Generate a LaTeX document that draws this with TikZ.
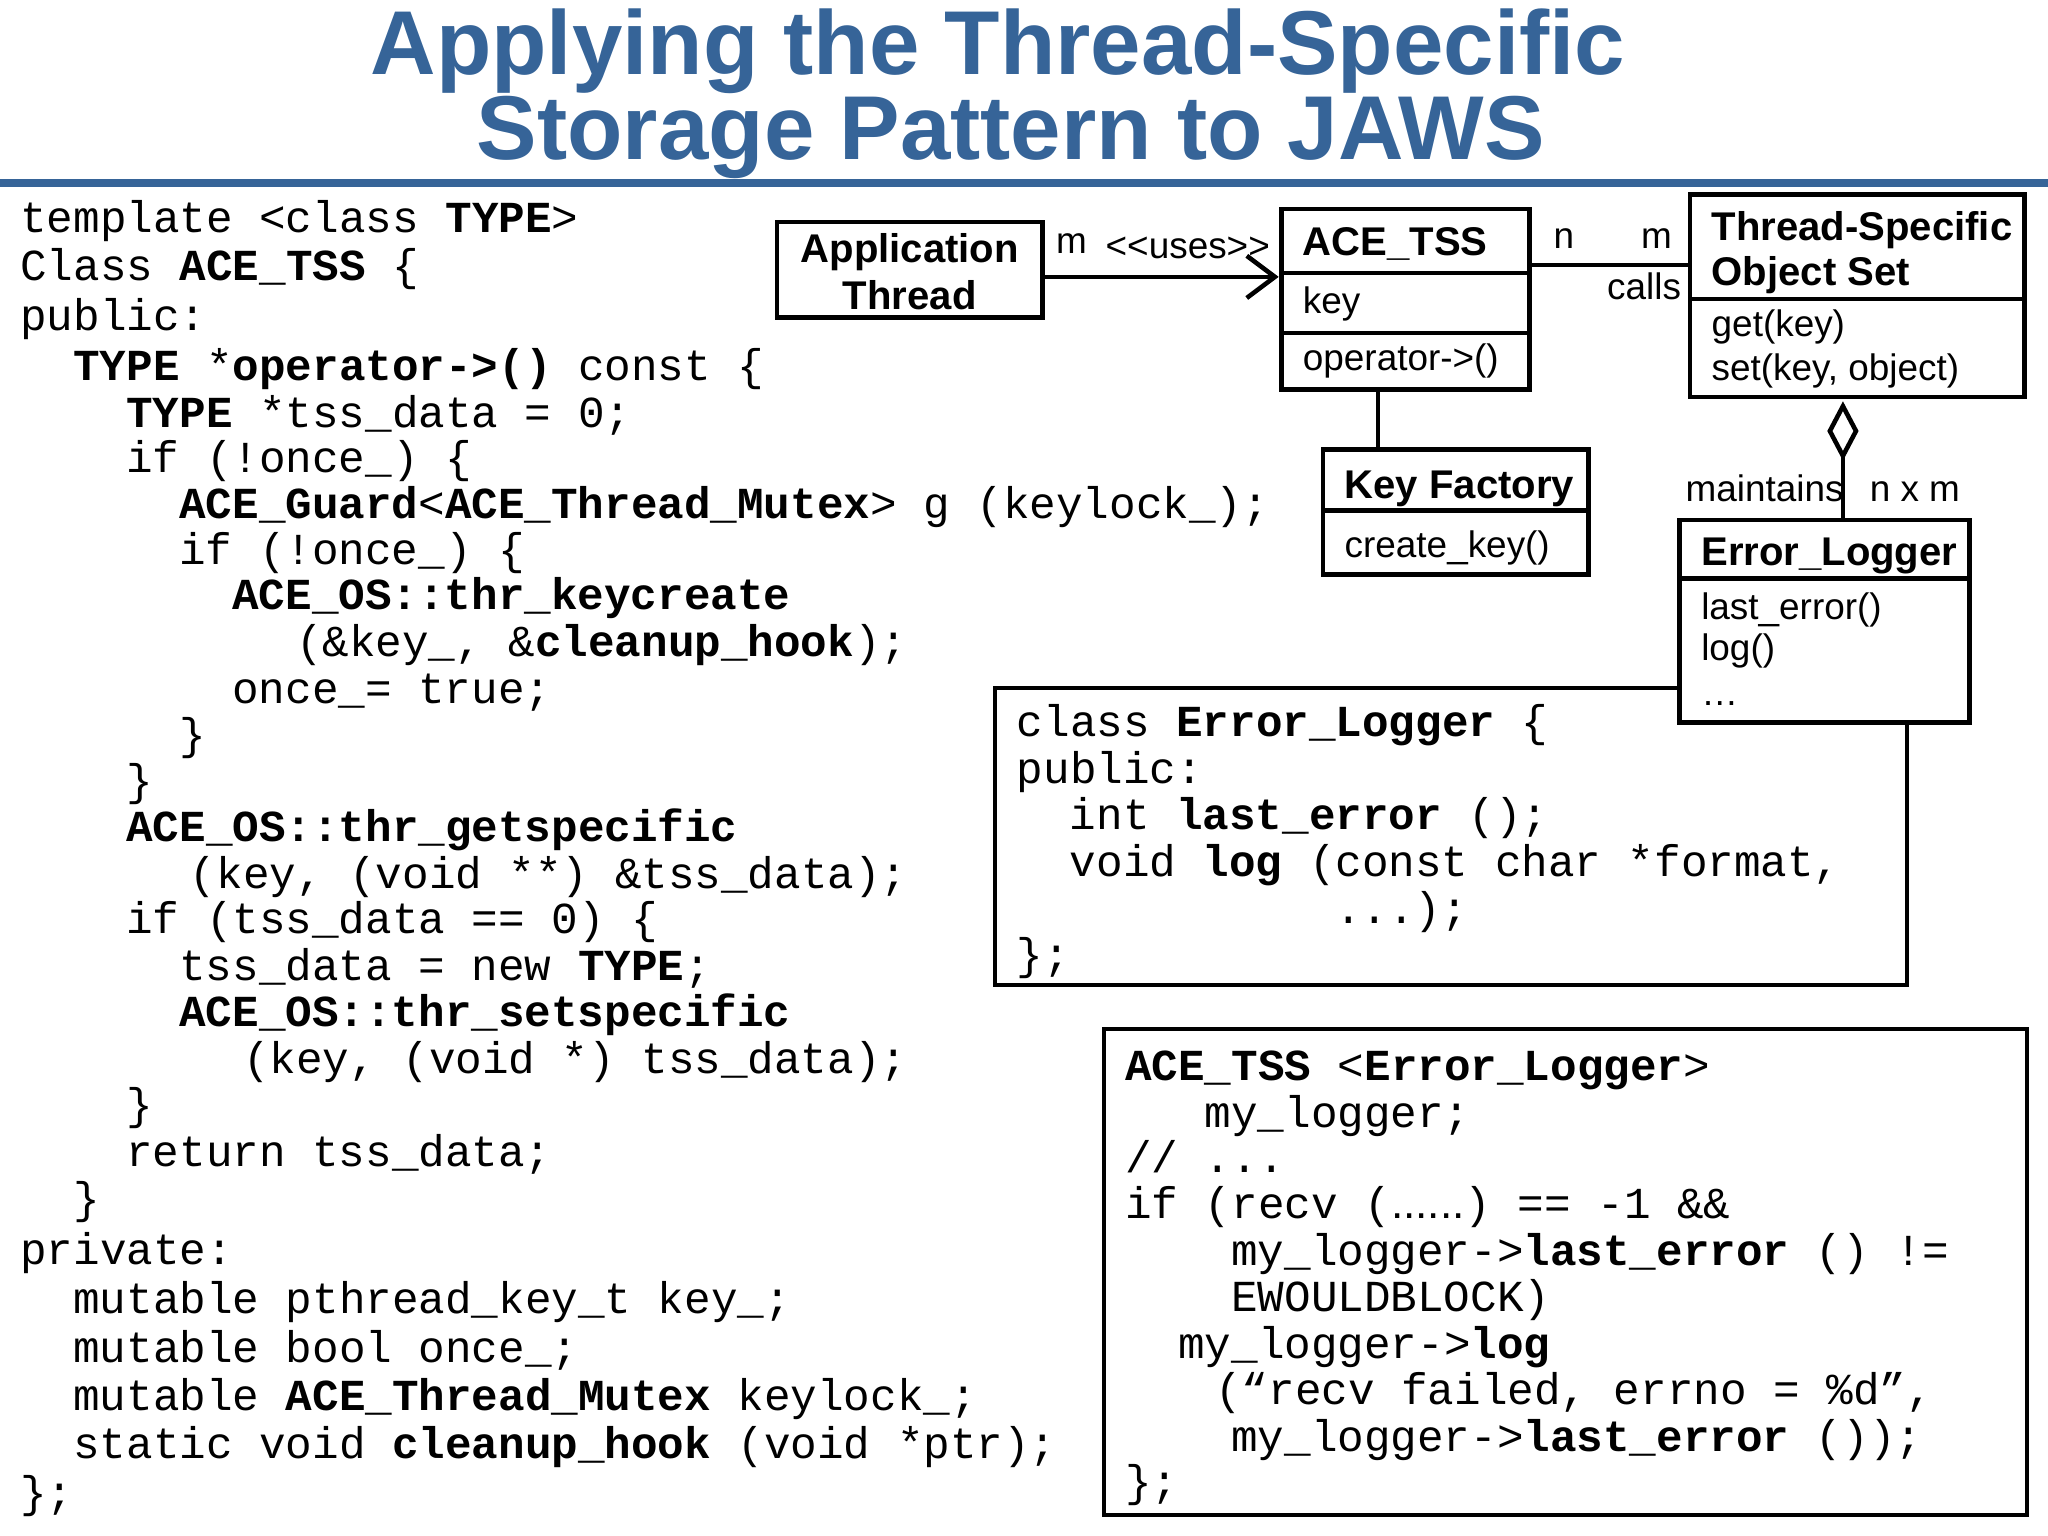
\documentclass[tikz,border=0pt]{standalone}
\usepackage{fontspec}
\setmainfont{Liberation Sans}
\setmonofont{Liberation Mono}
\usetikzlibrary{arrows.meta,shapes.geometric}
\definecolor{ttl}{RGB}{54,100,152}
\tikzset{
 code/.style={anchor=base west,inner sep=0pt,font=\fontsize{12.6}{14}\ttfamily},
 lbl/.style={anchor=base west,inner sep=0pt,font=\fontsize{10.5}{12}\selectfont},
 blbl/.style={anchor=base west,inner sep=0pt,font=\fontsize{11.4}{13}\bfseries},
 box/.style={draw,line width=1.3pt},
}
\newcommand\B[1]{\textbf{#1}}
\newcommand\U{\_}
\begin{document}
\begin{tikzpicture}[x=0.01306cm,y=-0.01306cm]
\useasboundingbox (0,0) rectangle (1568,1176);
% title
\node[inner sep=0pt,anchor=base,font=\fontsize{25.8}{30}\bfseries,text=ttl] (t1) at (764,57) {Applying the Thread-Specific};
\node[inner sep=0pt,anchor=base,font=\fontsize{25.8}{30}\bfseries,text=ttl] (t2) at (774,122) {Storage Pattern to JAWS};
\fill[ttl] (0,137) rectangle (1568,143);
% left code
\def\cw{20.3}
\newcommand\cla[4]{\node[code] (#1) at ({15+#2*\cw},#3+11) {#4};}
\cla{a1}{0}{167}{template <class \B{TYPE}>}
\cla{a2}{0}{204}{Class \B{ACE\U TSS} \{}
\cla{a3}{0}{242}{public:}
\cla{a4}{2}{280}{\B{TYPE} *\B{operator->()} const \{}
\cla{a5}{4}{316}{\B{TYPE} *tss\U data = 0;}
\cla{a6}{4}{351}{if (!once\U) \{}
\cla{a7}{6}{386}{\B{ACE\U Guard}<\B{ACE\U Thread\U Mutex}> g (keylock\U);}
\cla{a8}{6}{421}{if (!once\U) \{}
\cla{a9}{8}{456}{\B{ACE\U OS::thr\U keycreate}}
\cla{a10}{10.4}{492}{(\&key\U, \&\B{cleanup\U hook});}
\cla{a11}{8}{528}{once\U = true;}
\cla{a12}{6}{563}{\}}
\cla{a13}{4}{598}{\}}
\cla{a14}{4}{633}{\B{ACE\U OS::thr\U getspecific}}
\cla{a15}{6.4}{669}{(key, (void **) \&tss\U data);}
\cla{a16}{4}{704}{if (tss\U data == 0) \{}
\cla{a17}{6}{740}{tss\U data = new \B{TYPE};}
\cla{a18}{6}{775}{\B{ACE\U OS::thr\U setspecific}}
\cla{a19}{8.4}{811}{(key, (void *) tss\U data);}
\cla{a20}{4}{846}{\}}
\cla{a21}{4}{882}{return tss\U data;}
\cla{a22}{2}{918}{\}}
\cla{a23}{0}{957}{private:}
\cla{a24}{2}{995}{mutable pthread\U key\U t key\U;}
\cla{a25}{2}{1032}{mutable bool once\U;}
\cla{a26}{2}{1069}{mutable \B{ACE\U Thread\U Mutex} keylock\U;}
\cla{a27}{2}{1106}{static void \B{cleanup\U hook} (void *ptr);}
\cla{a28}{0}{1143}{\};}
% code box 1
\draw[line width=1.2pt] (762,527) rectangle (1460,754);
\newcommand\clb[4]{\node[code] (#1) at ({778+#2*\cw},#3+11) {#4};}
\clb{b1}{0}{553}{class \B{Error\U Logger} \{}
\clb{b2}{0}{589}{public:}
\clb{b3}{2}{624}{int \B{last\U error} ();}
\clb{b4}{2}{660}{void \B{log} (const char *format,}
\clb{b5}{12}{696}{...);}
\clb{b6}{0}{731}{\};}
% code box 2
\draw[line width=1.2pt] (845,788) rectangle (1552,1160);
\newcommand\clc[4]{\node[code] (#1) at ({861+#2*\cw},#3+11) {#4};}
\clc{c1}{0}{816}{\B{ACE\U TSS} <\B{Error\U Logger}>}
\clc{c2}{3}{852}{my\U logger;}
\clc{c3}{0}{887}{// ...}
\clc{c4}{0}{922}{if (recv ({\rmfamily......}) == -1 \&\&}
\clc{c5}{4}{958}{my\U logger->\B{last\U error} () !=}
\clc{c6}{4}{993}{EWOULDBLOCK)}
\clc{c7}{2}{1029}{my\U logger->\B{log}}
\clc{c8}{3.4}{1064}{(“recv failed, errno = \%d”,}
\clc{c9}{4}{1100}{my\U logger->\B{last\U error} ());}
\clc{c10}{0}{1135}{\};}
% UML
\draw[box] (595,170) rectangle (798,243);
\node[align=center,inner sep=0pt,font=\fontsize{11.4}{13.5}\bfseries] (app) at (696.5,208) {Application\\Thread};
\draw[box] (981,160) rectangle (1171,298);
\draw[box] (981,209) -- (1171,209) (981,255) -- (1171,255);
\node[blbl] (tss) at (997,196) {ACE\_TSS};
\node[lbl] (tk) at (997,240) {key};
\node[lbl] (top) at (997,284) {operator->()};
\coordinate (aps) at (798,212); \coordinate (tsw) at (979,212);
\draw[line width=1.3pt,-{Straight Barb[length=8pt,width=12pt]}] (aps) -- (tsw);
\node[lbl] (um) at (808,194) {m};
\node[lbl] (uu) at (846,198) {<{}<uses>{}>};
\draw[box] (1294,149) rectangle (1550,304);
\draw[box] (1294,229) -- (1552,229);
\node[blbl,align=left,anchor=north west] (tso) at (1310,161) {Thread-Specific\\Object Set};
\node[lbl] (tg) at (1310,258) {get(key)};
\node[lbl] (ts) at (1310,291) {set(key, object)};
\coordinate (tsr) at (1171,203); \coordinate (tsl) at (1294,203);
\draw[line width=1.3pt] (tsr) -- (tsl);
\node[lbl] (cn) at (1189,190) {n};
\node[lbl] (cm) at (1256,190) {m};
\node[lbl] (cc) at (1230,229) {calls};
\draw[box] (1013,344) rectangle (1216,440);
\draw[box] (1013,391) -- (1218,391);
\node[blbl] (kf) at (1029,382) {Key Factory};
\node[lbl] (kc) at (1029,427) {create\_key()};
\coordinate (tb) at (1055,298); \coordinate (kt) at (1055,344);
\draw[line width=1.3pt] (tb) -- (kt);
\fill[white] (1286,398) rectangle (1508,553);
\draw[box] (1286,398) rectangle (1508,553);
\draw[box] (1286,443) -- (1510,443);
\node[blbl] (el) at (1302,433) {Error\_Logger};
\node[lbl] (e1) at (1302,474) {last\_error()};
\node[lbl] (e2) at (1302,506) {log()};
\node[lbl] (e3) at (1302,540) {\ldots};
\coordinate (dt) at (1411,311); \coordinate (db) at (1411,349);
\draw[line width=1.3pt,line join=miter] (dt) -- (1421,330) -- (db) -- (1401,330) -- cycle;
\coordinate (et) at (1411,398);
\draw[line width=1.3pt] (db) -- (et);
\node[lbl] (mt) at (1290,384) {maintains};
\node[lbl] (nm) at (1431,384) {n x m};
\end{tikzpicture}
\end{document}
